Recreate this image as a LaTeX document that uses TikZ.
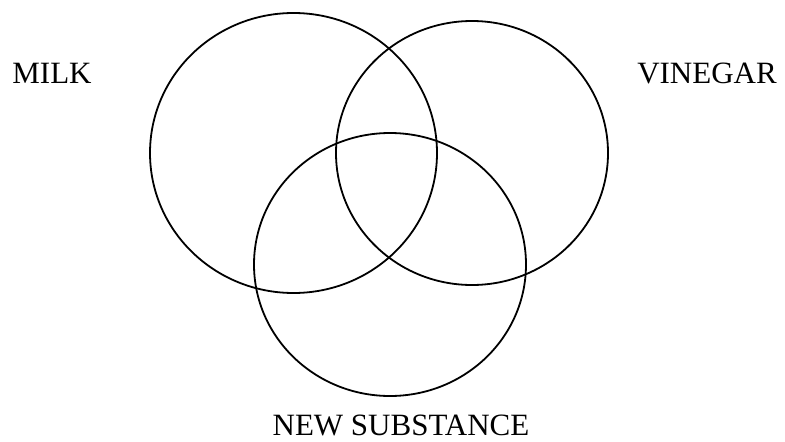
\documentclass[tikz,border=0pt]{standalone}
\usepackage{fontspec}
\setmainfont{Liberation Serif}
\usepackage{tikz}
\usetikzlibrary{positioning}

\begin{document}
\begin{tikzpicture}[x=1pt, y=-1pt,
    ring/.style={draw=black, line width=1.8pt},
    setlabel/.style={anchor=base, inner sep=0pt, text=black,
                     font=\fontsize{31}{37}\selectfont}]
  \useasboundingbox (0,0) rectangle (785,442);
  % the three sets
  \draw[ring] (293.5,153) ellipse [x radius=143.5, y radius=140];
  \draw[ring] (472,153) ellipse [x radius=136, y radius=132];
  \draw[ring] (390,264.5) ellipse [x radius=136, y radius=131.5];
  % labels
  \node[setlabel] (milk) at (52,83) {MILK};
  \node[setlabel] (vinegar) at (707,83) {VINEGAR};
  \node[setlabel] (newsub) at (401,435.5) {NEW SUBSTANCE};
\end{tikzpicture}
\end{document}
